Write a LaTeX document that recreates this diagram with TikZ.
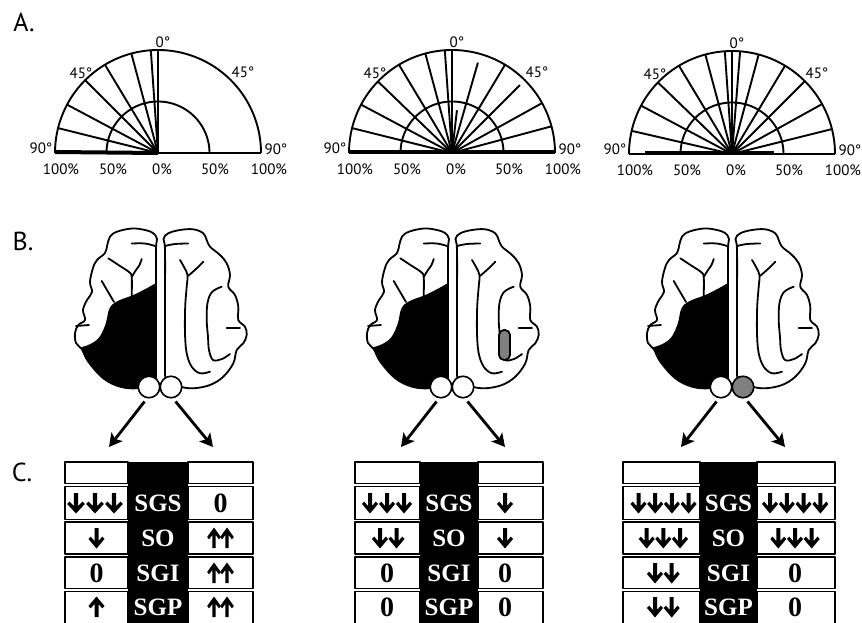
\documentclass[tikz,border=0pt]{standalone}
\usepackage{fontspec}
\setmainfont{Liberation Serif}
\newfontfamily\labfont{PT Sans}
\usetikzlibrary{arrows.meta}
\definecolor{midgray}{RGB}{128,128,128}

\tikzset{
  plotline/.style={line width=1.9pt},
  thickbase/.style={line width=4pt},
  axlabel/.style={font=\labfont\fontsize{15}{15}\selectfont, inner sep=0pt},
  panellabel/.style={font=\labfont\fontsize{26}{26}\selectfont, inner sep=0pt},
  brainline/.style={line width=1.8pt, line join=round, line cap=round},
  cellbox/.style={line width=1.3pt},
  layertext/.style={font=\bfseries\fontsize{25}{25}\selectfont, text=white, inner sep=0pt},
  zerotext/.style={font=\bfseries\fontsize{28}{28}\selectfont, inner sep=0pt},
  bigarrow/.style={line width=2.8pt, -{Stealth[length=13pt,width=14pt,inset=3pt]}},
  colliculus/.style={circle, draw, line width=1.6pt, minimum size=21.5pt, inner sep=0pt},
  pics/dnglyph/.style={code={\fill (0,10.5) -- (8,1) -- (5.8,-1.4) -- (2,3) -- (2,-10) -- (-2,-10) -- (-2,3) -- (-5.8,-1.4) -- (-8,1) -- cycle;}},
  pics/upglyph/.style={code={\fill (0,-10.5) -- (8,-1) -- (5.8,1.4) -- (2,-3) -- (2,10) -- (-2,10) -- (-2,-3) -- (-5.8,1.4) -- (-8,-1) -- cycle;}},
}

% polar frame: #1 cx, #2 cy, #3 name
\newcommand{\polarframe}[3]{%
\begin{scope}[shift={(#1,#2)}]
  \coordinate (#3c) at (0,0);
  \draw[plotline] (-103,0) -- (103,0);
  \draw[plotline] plot[domain=180:360, samples=121, smooth] ({103*cos(\x)},{103*sin(\x)});
  \draw[plotline] plot[domain=180:360, samples=91, smooth] ({51.5*cos(\x)},{51.5*sin(\x)});
  \draw[plotline] (#3c) -- (0,-103);
  \node[axlabel] (#3t0) at (5,-111) {0°};
  \node[axlabel] (#3tl) at (-77,-80) {45°};
  \node[axlabel] (#3tr) at (85,-81) {45°};
  \node[axlabel] (#3bl) at (-117,-5) {90°};
  \node[axlabel] (#3br) at (118,-4) {90°};
  \node[axlabel] (#3p1) at (-97,16) {100\%};
  \node[axlabel] (#3p2) at (-45,16) {50\%};
  \node[axlabel] (#3p3) at (4,16) {0\%};
  \node[axlabel] (#3p4) at (57,16) {50\%};
  \node[axlabel] (#3p5) at (111,16) {100\%};
\end{scope}}

% brain: #1 midline x, #2 name, #3 right colliculus fill
\newcommand{\brainfig}[3]{%
\begin{scope}[shift={(#1,220)}]
  \begin{scope}
    \clip plot[smooth cycle, tension=0.6] coordinates {(-4,150) (-4,90) (-4,30) (-3,19) (-7,13) (-15,10) (-28,8.5) (-43,11.7) (-50,16.7) (-52.7,25) (-55,33) (-63,40) (-67,48) (-70,62) (-68,72) (-73,80) (-77,90) (-75,100) (-81.7,105) (-85,113) (-84,123) (-78.3,129) (-71.7,141.7) (-56.7,158.3) (-40,166.7) (-23.3,168.3) (-11,165) (-5,159)};
    \fill plot[smooth, tension=0.6] coordinates {(0,61) (-4,63) (-13.3,68.3) (-26.7,75) (-40,80) (-48.3,85) (-51.7,91.7) (-53.3,100) (-56.7,110) (-63.3,120) (-78,127) (-100,128)} -- (-100,200) -- (10,200) -- (10,61) -- cycle;
  \end{scope}
  \draw[brainline] plot[smooth cycle, tension=0.6] coordinates {(-4,150) (-4,90) (-4,30) (-3,19) (-7,13) (-15,10) (-28,8.5) (-43,11.7) (-50,16.7) (-52.7,25) (-55,33) (-63,40) (-67,48) (-70,62) (-68,72) (-73,80) (-77,90) (-75,100) (-81.7,105) (-85,113) (-84,123) (-78.3,129) (-71.7,141.7) (-56.7,158.3) (-40,166.7) (-23.3,168.3) (-11,165) (-5,159)};
  \draw[brainline] plot[smooth, tension=0.6] coordinates {(-28.3,23.5) (-15,23.5) (-5,26)};
  \draw[brainline] plot[smooth, tension=0.6] coordinates {(-51.7,38.3) (-40,46) (-31,52) (-28.3,57) (-28.3,76)};
  \draw[brainline] plot[smooth, tension=0.6] coordinates {(-28.3,57) (-24,50) (-20.5,45) (-18.3,39)};
  \draw[brainline] (-58.3,61) -- (-46,82);
  \draw[brainline] (-84,106) -- (-71,105);
  % right hemisphere
  \draw[brainline] plot[smooth cycle, tension=0.6] coordinates {(5,150) (5,90) (5,30) (3.5,19) (8.3,13.3) (20,10) (33.3,9.3) (43.3,13.3) (46.7,20) (50,26.7) (60,35) (66.7,43.3) (70,55) (68.3,66.7) (75,75) (78.3,86.7) (78.3,100) (85,106.7) (86.7,115) (83.3,123.3) (76.7,130) (73.3,143.3) (63.3,156.7) (50,165) (33.3,168.3) (20,166.7) (10,163) (6,158)};
  \draw[brainline] plot[smooth, tension=0.6] coordinates {(5,26) (15,24) (28.3,23.5)};
  \draw[brainline] plot[smooth, tension=0.6] coordinates {(20,40) (24,47) (27.5,55) (26.7,66.7) (25.2,86.7) (25,113.3) (26.7,133.3) (31.7,146.7) (40,153.3) (50,151.7)};
  \draw[brainline] plot[smooth, tension=0.6] coordinates {(43.3,41.7) (36,49) (28,56)};
  \draw[brainline] plot[smooth, tension=0.6] coordinates {(61.7,66.7) (52,72) (47.5,83) (46.7,100) (48,117) (49,130) (53,140) (62,139) (70,134)};
  \draw[brainline] (66.7,108.3) -- (80,108.3);
  \node[colliculus, fill=white] (#2cl) at (-11,167) {};
  \node[colliculus, fill=#3] (#2cr) at (11,167) {};
  \coordinate (#2el) at (-51,227);
  \coordinate (#2er) at (53,227);
  \draw[bigarrow, shorten <=4pt] (#2cl.-100) -- (#2el);
  \draw[bigarrow, shorten <=4pt] (#2cr.-80) -- (#2er);
\end{scope}}

% table frame: #1 xL, #2 b1, #3 b2, #4 xR, #5 name, #6 mid x
\newcommand{\tableframe}[6]{%
  \fill (#2,462) rectangle (#3,625);
  \foreach \yt/\yb in {462/483.5, 486.5/519.5, 522/554, 557/588.5, 591.5/626}{
    \draw[cellbox] (#1,\yt) rectangle (#2,\yb);
    \draw[cellbox] (#3,\yt) rectangle (#4,\yb);
  }
  \node[layertext] (#5sgs) at (#6,503) {SGS};
  \node[layertext] (#5so) at (#6,538) {SO};
  \node[layertext] (#5sgi) at (#6,573) {SGI};
  \node[layertext] (#5sgp) at (#6,607) {SGP};
}

\begin{document}
\begin{tikzpicture}[x=1pt,y=-1pt, line join=round]
\useasboundingbox (0,0) rectangle (862,623);
\fill[white] (0,0) rectangle (862,623);

% panel labels
\node[panellabel] (lA) at (24,22.5) {A.};
\node[panellabel] (lB) at (23,241) {B.};
\node[panellabel] (lC) at (22,472) {C.};

% ---------- A: polar plots
\polarframe{158}{153}{pa}
\begin{scope}[shift={(158,153)}]
  \foreach \a in {4,15,31,45,62,76}
    \draw[plotline] (pac) -- ({-103*sin(\a)},{-103*cos(\a)});
  \draw[thickbase] (-103,-1) -- (pac);
\end{scope}

\polarframe{452}{153}{pb}
\begin{scope}[shift={(452,153)}]
  \foreach \a in {4,15,31,46,62,76}
    \draw[plotline] (pbc) -- ({-103*sin(\a)},{-103*cos(\a)});
  \foreach \a/\l in {6.6/43, 16/94, 31/103, 45/96, 61/103, 75/103}
    \draw[plotline] (pbc) -- ({\l*sin(\a)},{-\l*cos(\a)});
  \draw[thickbase] (-103,-1) -- (103,-1);
\end{scope}

\polarframe{732}{154}{pc}
\begin{scope}[shift={(732,154)}]
  \foreach \a in {4,15,31,46,62,77}
    \draw[plotline] (pcc) -- ({-103*sin(\a)},{-103*cos(\a)});
  \foreach \a in {4.5,15,31,45,61,76}
    \draw[plotline] (pcc) -- ({103*sin(\a)},{-103*cos(\a)});
  \draw[thickbase] (-87,-1) -- (42,-1);
\end{scope}

% ---------- B: brains
\brainfig{160}{ba}{white}
\brainfig{452}{bb}{white}
\brainfig{732}{bc}{midgray}
\draw[brainline, fill=midgray, rounded corners=5pt] (499,330) rectangle (510,360);

% ---------- C: tables
\tableframe{65}{128}{188}{253}{ta}{158}
\tableframe{355}{420}{478}{543}{tb}{449}
\tableframe{623}{700}{757}{835}{tc}{728.5}

% table 1
\foreach \x in {76,95,114} \pic[xscale=1.1] at (\x,503) {dnglyph};
\node[zerotext] (ta0a) at (220.5,503) {0};
\pic at (96.5,538) {dnglyph};
\foreach \x in {214,227} \pic[xscale=0.85] at (\x,538) {upglyph};
\node[zerotext] (ta0b) at (96.5,573) {0};
\foreach \x in {214,227} \pic[xscale=0.85] at (\x,573) {upglyph};
\pic at (96.5,607) {upglyph};
\foreach \x in {214,227} \pic[xscale=0.85] at (\x,607) {upglyph};

% table 2
\foreach \x in {370,387,404} \pic at (\x,503) {dnglyph};
\pic at (505,503) {dnglyph};
\foreach \x in {380,396.5} \pic at (\x,538) {dnglyph};
\pic at (505,538) {dnglyph};
\node[zerotext] (tb0a) at (387,573) {0};
\node[zerotext] (tb0b) at (505,573) {0};
\node[zerotext] (tb0c) at (387,607) {0};
\node[zerotext] (tb0d) at (505,607) {0};

% table 3
\foreach \x in {638.5,655.2,671.9,688.6} \pic at (\x,503) {dnglyph};
\foreach \x in {770,786.8,803.6,820.4} \pic at (\x,503) {dnglyph};
\foreach \x in {646.7,663.3,680} \pic at (\x,538) {dnglyph};
\foreach \x in {778.3,795,811.7} \pic at (\x,538) {dnglyph};
\foreach \x in {655,671.7} \pic at (\x,573) {dnglyph};
\node[zerotext] (tc0a) at (795,573) {0};
\foreach \x in {655,671.7} \pic at (\x,607) {dnglyph};
\node[zerotext] (tc0b) at (795,607) {0};
\end{tikzpicture}
\end{document}
